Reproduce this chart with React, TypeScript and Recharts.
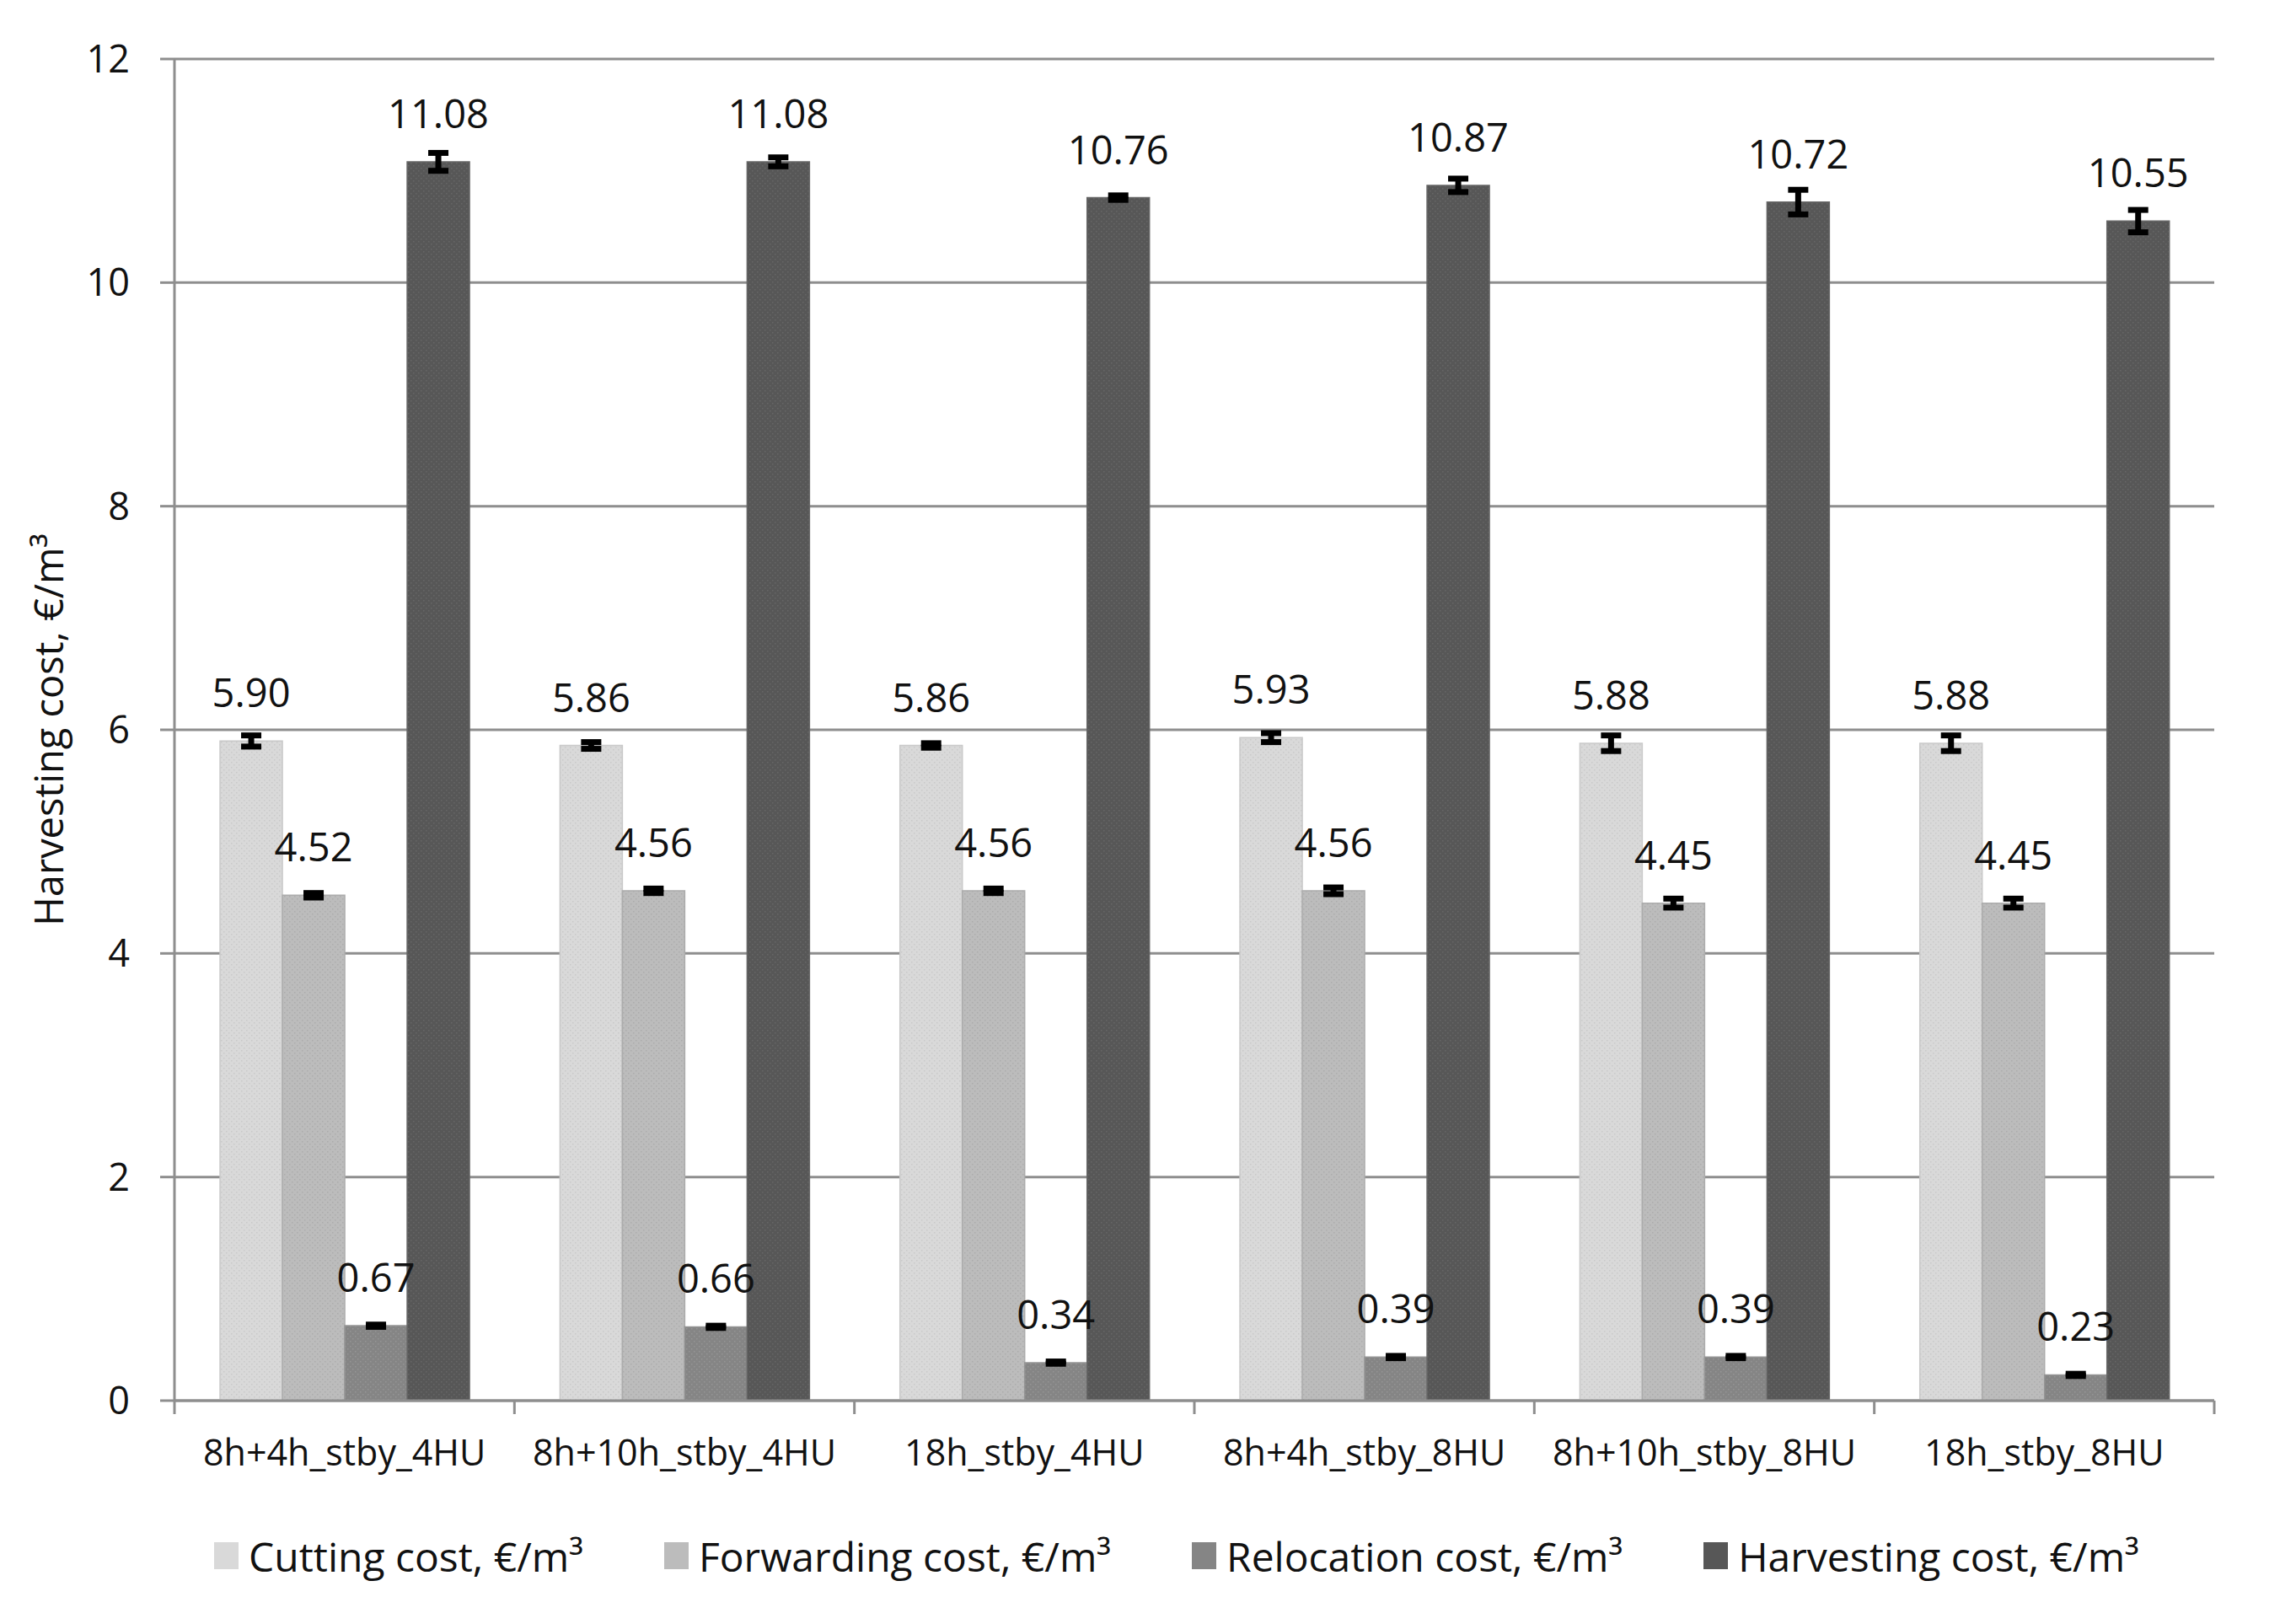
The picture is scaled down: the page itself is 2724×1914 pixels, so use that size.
import React from 'react';
import {
  BarChart,
  Bar,
  XAxis,
  YAxis,
  CartesianGrid,
  Legend,
  LabelList,
  ErrorBar,
} from 'recharts';

// scenario names along the x axis
const categories = [
  '8h+4h_stby_4HU',
  '8h+10h_stby_4HU',
  '18h_stby_4HU',
  '8h+4h_stby_8HU',
  '8h+10h_stby_8HU',
  '18h_stby_8HU',
];

// means, €/m³
const cutting = [5.9, 5.86, 5.86, 5.93, 5.88, 5.88];
const forwarding = [4.52, 4.56, 4.56, 4.56, 4.45, 4.45];
const relocation = [0.67, 0.66, 0.34, 0.39, 0.39, 0.23];
const harvesting = [11.08, 11.08, 10.76, 10.87, 10.72, 10.55];

// error bar half-lengths
const cuttingErr = [0.05, 0.03, 0.02, 0.04, 0.07, 0.07];
const forwardingErr = [0.02, 0.02, 0.02, 0.03, 0.04, 0.04];
const relocationErr = [0.01, 0.01, 0.01, 0.01, 0.01, 0.01];
const harvestingErr = [0.08, 0.04, 0.02, 0.06, 0.11, 0.1];

const yTicks = [0, 2, 4, 6, 8, 10, 12];

const seriesNames = [
  'Cutting cost, €/m³',
  'Forwarding cost, €/m³',
  'Relocation cost, €/m³',
  'Harvesting cost, €/m³',
];
const seriesColors = ['#d9d9d9', '#bcbcbc', '#858585', '#575757'];
const dotColors = ['#c9c9c9', '#acacac', '#959595', '#666666'];

const FONT = '"Open Sans", "Noto Sans", sans-serif';
const GRID = '#8e8e8e';

const W = 2724;
const H = 1914;

const chartData = categories.map((name, i) => ({
  name,
  cutting: cutting[i],
  forwarding: forwarding[i],
  relocation: relocation[i],
  harvesting: harvesting[i],
  cuttingErr: cuttingErr[i],
  forwardingErr: forwardingErr[i],
  relocationErr: relocationErr[i],
  harvestingErr: harvestingErr[i],
}));

function CategoryTick(props: any) {
  const { x, y, payload, index } = props;
  const half = payload?.offset ?? (2420 / categories.length) / 2;
  return (
    <g>
      <line x1={x - half} x2={x - half} y1={y} y2={y + 16} stroke={GRID} strokeWidth={3} />
      {index === categories.length - 1 && (
        <line x1={x + half} x2={x + half} y1={y} y2={y + 16} stroke={GRID} strokeWidth={3} />
      )}
      <text x={x} y={y + 77} textAnchor="middle" fontSize={43} fontFamily={FONT} fill="#111">
        {payload.value}
      </text>
    </g>
  );
}

function YTitle({ viewBox }: any) {
  const cx = (viewBox?.x ?? 0) + 57;
  const cy = (viewBox?.y ?? 0) + (viewBox?.height ?? 0) / 2;
  return (
    <text
      x={cx}
      y={cy}
      transform={`rotate(-90, ${cx}, ${cy})`}
      textAnchor="middle"
      dominantBaseline="central"
      fontSize={47}
      fontFamily={FONT}
      fill="#111"
    >
      Harvesting cost, €/m³
    </text>
  );
}

function LegendRow() {
  return (
    <div
      style={{
        display: 'flex',
        alignItems: 'center',
        height: 80,
        paddingLeft: 254,
        gap: 96,
        fontFamily: FONT,
        fontSize: 48,
        color: '#111',
      }}
    >
      {seriesNames.map((n, i) => (
        <div key={n} style={{ display: 'flex', alignItems: 'center', whiteSpace: 'nowrap' }}>
          <span style={{ width: 29, height: 32, background: seriesColors[i], marginRight: 12, display: 'inline-block' }} />
          <span>{n}</span>
        </div>
      ))}
    </div>
  );
}

const fmt = (v: any) => Number(v).toFixed(2);

export default function App() {
  const keys = ['cutting', 'forwarding', 'relocation', 'harvesting'];
  return (
    <div style={{ position: 'fixed', left: 0, top: 0, width: W, height: H, background: '#fff' }}>
      <BarChart
        width={W}
        height={H}
        data={chartData}
        margin={{ top: 70, right: 97, left: 0, bottom: 28 }}
        barCategoryGap="13.4%"
        barGap={0}
      >
        <defs>
          {keys.map((k, i) => (
            <pattern key={k} id={`pat-${k}`} width={6} height={6} patternUnits="userSpaceOnUse">
              <rect width={6} height={6} fill={seriesColors[i]} />
              <rect x={1} y={1} width={1.5} height={1.5} fill={dotColors[i]} />
              <rect x={4} y={4} width={1.5} height={1.5} fill={dotColors[i]} />
            </pattern>
          ))}
        </defs>
        <CartesianGrid vertical={false} stroke={GRID} strokeWidth={3} />
        <XAxis
          dataKey="name"
          height={144}
          tickSize={0}
          tickMargin={0}
          tickLine={false}
          axisLine={{ stroke: GRID, strokeWidth: 3 }}
          tick={<CategoryTick />}
          interval={0}
        />
        <YAxis
          width={207}
          domain={[0, 12]}
          ticks={yTicks}
          interval={0}
          tickSize={17}
          tickMargin={36}
          tickLine={{ stroke: GRID, strokeWidth: 3 }}
          axisLine={{ stroke: GRID, strokeWidth: 3 }}
          tick={{ fontSize: 45, fontFamily: FONT, fill: '#111' }}
          label={{ content: <YTitle /> }}
        />
        <Legend verticalAlign="bottom" content={<LegendRow />} />
        {keys.map((k, i) => (
          <Bar
            key={k}
            dataKey={k}
            name={seriesNames[i]}
            fill={`url(#pat-${k})`}
            stroke={dotColors[i]}
            strokeWidth={1.5}
            isAnimationActive={false}
          >
            <ErrorBar dataKey={`${k}Err`} width={12} strokeWidth={7} stroke="#000" direction="y" />
            <LabelList
              dataKey={k}
              position="top"
              offset={40}
              formatter={fmt}
              style={{ fontSize: 47, fontFamily: FONT, fill: '#111' }}
            />
          </Bar>
        ))}
      </BarChart>
    </div>
  );
}
